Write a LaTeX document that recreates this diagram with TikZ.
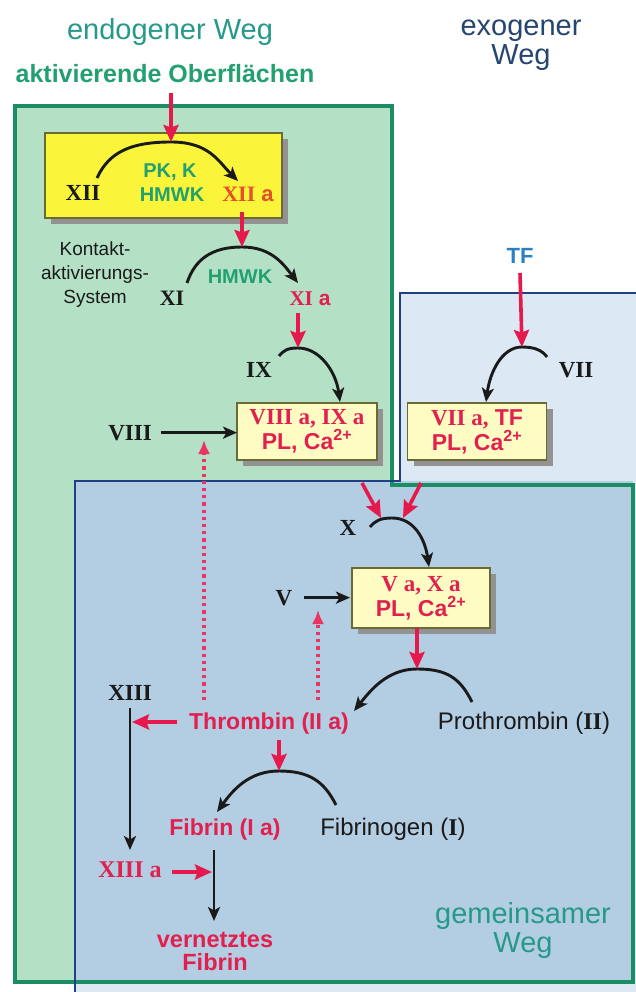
\documentclass[tikz,border=0pt]{standalone}
\usepackage{fontspec}
\setmainfont{Liberation Sans}
\newfontfamily\rmn{Liberation Serif}
\usetikzlibrary{arrows.meta,shadows}
\definecolor{grfill}{HTML}{B4E0C6}
\definecolor{cmfill}{HTML}{B3CDE3}
\definecolor{exfill}{HTML}{DCE8F4}
\definecolor{grline}{HTML}{1C8C64}
\definecolor{blline}{HTML}{1F3F86}
\definecolor{ared}{HTML}{E6194D}
\definecolor{tred}{HTML}{E2204F}
\definecolor{tora}{HTML}{E4502A}
\definecolor{tgreen}{HTML}{22A070}
\definecolor{tteal}{HTML}{26998A}
\definecolor{tnavy}{HTML}{26456F}
\definecolor{tblue}{HTML}{2A80C2}
\definecolor{ybright}{HTML}{FAF43A}
\definecolor{ypale}{HTML}{FEFCC2}
\definecolor{bxline}{HTML}{6A6A35}
\definecolor{shgray}{HTML}{929292}
\definecolor{tblack}{HTML}{1A1A1A}
\newcommand\fsz[2]{\fontsize{#1}{#2}\selectfont}
\begin{document}
\begin{tikzpicture}[x=1pt,y=-1pt,
  every node/.style={inner sep=0pt,outer sep=0pt},
  lbl/.style={anchor=base},
  rn/.style={anchor=base,text=tblack,font=\rmn\bfseries\fsz{23}{23}},
  blk/.style={draw=tblack,line width=2.9pt,-{Stealth[length=14pt,width=12pt,inset=3.5pt]}},
  redarr/.style={draw=ared,line width=3.6pt,-{Stealth[length=17pt,width=15pt,inset=2.5pt]}},
  dotarr/.style={draw=ared!88!white,line width=3.2pt,dash pattern=on 3.2pt off 4pt,-{Latex[length=14pt,width=12pt]}},
  cbox/.style={draw=bxline,line width=1.4pt,fill=ypale,align=center,text=tred,
    font=\bfseries\fsz{23}{25},
    drop shadow={shadow xshift=6pt,shadow yshift=-6pt,fill=shgray,opacity=1}},
  ybox/.style={draw=bxline,line width=1.4pt,fill=ybright,
    drop shadow={shadow xshift=6pt,shadow yshift=-6pt,fill=shgray,opacity=1}},
]
\useasboundingbox (0,0) rectangle (635,992);
\fill[white] (0,0) rectangle (635,992);
% regions
\fill[exfill] (400,293) -- (640,293) -- (640,1000) -- (75,1000) -- (75,481) -- (400,481) -- cycle;
\fill[grfill] (15,106) -- (392,106) -- (392,485) -- (633,485) -- (633,982) -- (15,982) -- cycle;
\fill[cmfill] (75,481) rectangle (633,982);
\draw[grline,line width=3.5pt] (15,106) -- (392,106) -- (392,485) -- (633,485) -- (633,982) -- (15,982) -- cycle;
\draw[blline,line width=2.8pt] (640,293) -- (400,293) -- (400,481) -- (75,481) -- (75,1000);

% titles
\node[lbl,text=tteal,font=\fsz{29}{29}] (endo) at (170,40) {endogener Weg};
\node[lbl,text=tnavy,font=\fsz{29}{29}] (exo1) at (521,36) {exogener};
\node[lbl,text=tnavy,font=\fsz{29}{29}] (exo2) at (521,65) {Weg};
\node[lbl,text=tteal,font=\fsz{29}{29}] (gem1) at (523,923) {gemeinsamer};
\node[lbl,text=tteal,font=\fsz{29}{29}] (gem2) at (523,952) {Weg};
\node[lbl,text=tgreen,font=\bfseries\fsz{25}{25}] (akt) at (165,83) {aktivierende Oberflächen};

% boxes
\node[ybox,minimum width=237pt,minimum height=85pt] (yb) at (163.5,175.5) {};
\node[cbox,minimum width=140pt,minimum height=57pt] (box1) at (307,431.5) {{\rmn VIII a, IX a}\\PL, Ca\textsuperscript{2+}};
\node[cbox,minimum width=139pt,minimum height=57pt] (box2) at (477,431.5) {{\rmn VII a,} TF\\PL, Ca\textsuperscript{2+}};
\node[cbox,minimum width=138pt,minimum height=60pt] (box3) at (421,598) {{\rmn V a, X a}\\PL, Ca\textsuperscript{2+}};

% contact system
\node[rn] (xii) at (83,201) {XII};
\node[lbl,text=tgreen,font=\bfseries\fsz{20}{20}] (pk) at (170,178) {PK, K};
\node[lbl,text=tgreen,font=\bfseries\fsz{20}{20}] (hmwk1) at (172,202) {HMWK};
\node[lbl,text=tora,font=\bfseries\fsz{22}{22}] (xiia) at (248,202) {{\rmn XII} a};
\node[lbl,text=tblack,font=\fsz{19}{19}] (k1) at (95,255) {Kontakt-};
\node[lbl,text=tblack,font=\fsz{19}{19}] (k2) at (95,279) {aktivierungs-};
\node[lbl,text=tblack,font=\fsz{19}{19}] (k3) at (95,303) {System};
\node[rn,font=\rmn\bfseries\fsz{22}{22}] (xi) at (172,305) {XI};
\node[lbl,text=tgreen,font=\bfseries\fsz{20}{20}] (hmwk2) at (240,283) {HMWK};
\node[lbl,text=tred,font=\bfseries\fsz{21}{21}] (xia) at (310,305) {{\rmn XI} a};
\node[rn] (ix) at (259,377) {IX};
\node[rn] (viii) at (130,440) {VIII};
\node[lbl,text=tblue,font=\bfseries\fsz{22}{22}] (tf) at (520,263) {TF};
\node[rn] (vii) at (576,377) {VII};
\node[rn] (x) at (348,535) {X};
\node[rn] (v) at (284,605) {V};
\node[rn] (xiii) at (130,700) {XIII};
\node[lbl,text=tred,font=\bfseries\fsz{23}{23}] (thr) at (269,729) {Thrombin (II a)};
\node[lbl,text=tblack,font=\fsz{24}{24}] (proth) at (524,729) {Prothrombin ({\rmn\bfseries II})};
\node[lbl,text=tred,font=\bfseries\fsz{23}{23}] (fib) at (225,835) {Fibrin (I a)};
\node[lbl,text=tblack,font=\fsz{24}{24}] (fibg) at (393,835) {Fibrinogen ({\rmn\bfseries I})};
\node[lbl,text=tred,font=\rmn\bfseries\fsz{24}{24}] (xiiia) at (130,877) {XIII a};
\node[lbl,text=tred,font=\bfseries\fsz{23.5}{23.5}] (vern1) at (215,947) {vernetztes};
\node[lbl,text=tred,font=\bfseries\fsz{23.5}{23.5}] (vern2) at (215,970) {Fibrin};

% arc coordinates
\coordinate (a1s) at (97,178);  \coordinate (a1m) at (171,142); \coordinate (a1e) at (238,181);
\coordinate (a2s) at (187,283); \coordinate (a2m) at (242,247); \coordinate (a2e) at (298,283);
\coordinate (a3s) at (279,356); \coordinate (a3m) at (298,348); \coordinate (a3e) at (340,402);
\coordinate (a4s) at (547,357); \coordinate (a4m) at (522,347); \coordinate (a4e) at (486,402);
\coordinate (a5s) at (370,527); \coordinate (a5m) at (392,518); \coordinate (a5e) at (429,567);
\coordinate (a6s) at (472,702); \coordinate (a6m) at (417,669); \coordinate (a6e) at (354,711);
\coordinate (a7s) at (336,805); \coordinate (a7m) at (279,771); \coordinate (a7e) at (217,812);

% black arcs
\draw[blk] (a1s) .. controls +(12,-26) and +(-40,0) .. (a1m) .. controls +(38,0) and +(-20,-20) .. (a1e);
\draw[blk] (a2s) .. controls +(8,-24) and +(-30,0) .. (a2m) .. controls +(30,0) and +(-14,-18) .. (a2e);
\draw[blk] (a3s) .. controls +(5,-6) and +(-10,0) .. (a3m) .. controls +(22,0) and +(-4,-30) .. (a3e);
\draw[blk] (a4s) .. controls +(-5,-7) and +(12,0) .. (a4m) .. controls +(-20,0) and +(4,-30) .. (a4e);
\draw[blk] (a5s) .. controls +(5,-6) and +(-12,0) .. (a5m) .. controls +(22,0) and +(-4,-28) .. (a5e);
\draw[blk] (a6s) .. controls +(-12,-24) and +(30,0) .. (a6m) .. controls +(-30,0) and +(16,-20) .. (a6e);
\draw[blk] (a7s) .. controls +(-12,-24) and +(30,0) .. (a7m) .. controls +(-30,0) and +(16,-22) .. (a7e);

% red arrows
\coordinate (r1s) at (171,93);
\coordinate (r2s) at (242,212);
\coordinate (r3s) at (298,313);
\coordinate (r4s) at (520,273);
\coordinate (r5as) at (362,483); \coordinate (r5ae) at (381,518);
\coordinate (r5bs) at (421,483); \coordinate (r5be) at (403,518);
\coordinate (r7s) at (279,740);
\coordinate (r8s) at (177,722); \coordinate (r8e) at (132,722);
\coordinate (r9s) at (172,872); \coordinate (r9e) at (212,872);
\draw[redarr] (r1s) -- (a1m);
\draw[redarr] (r2s) -- (a2m);
\draw[redarr] (r3s) -- (a3m);
\draw[redarr] (r4s) -- (a4m);
\draw[redarr] (r5as) -- (r5ae);
\draw[redarr] (r5bs) -- (r5be);
\draw[redarr] (box3.south -| a6m) -- (a6m);
\draw[redarr] (r7s) -- (a7m);

% black straight arrows
\coordinate (x13s) at (130,708); \coordinate (x13e) at (130,850);
\coordinate (fbs) at (214,850); \coordinate (fbe) at (214,921);
\draw[blk] ([xshift=9pt]viii.east) -- (box1.west |- viii.east);
\draw[blk] ([xshift=12pt]v.east) -- ([xshift=-2pt]box3.west |- v.east);
\draw[blk] (x13s) -- (x13e);
\draw[blk] (fbs) -- (fbe);
\draw[redarr] (r8s) -- (r8e);
\draw[redarr] (r9s) -- (r9e);

% dotted feedback arrows
\coordinate (d1s) at (204,700); \coordinate (d1e) at (204,440);
\coordinate (d2s) at (318,700); \coordinate (d2e) at (318,610);
\draw[dotarr] (d1s) -- (d1e);
\draw[dotarr] (d2s) -- (d2e);
\end{tikzpicture}
\end{document}
